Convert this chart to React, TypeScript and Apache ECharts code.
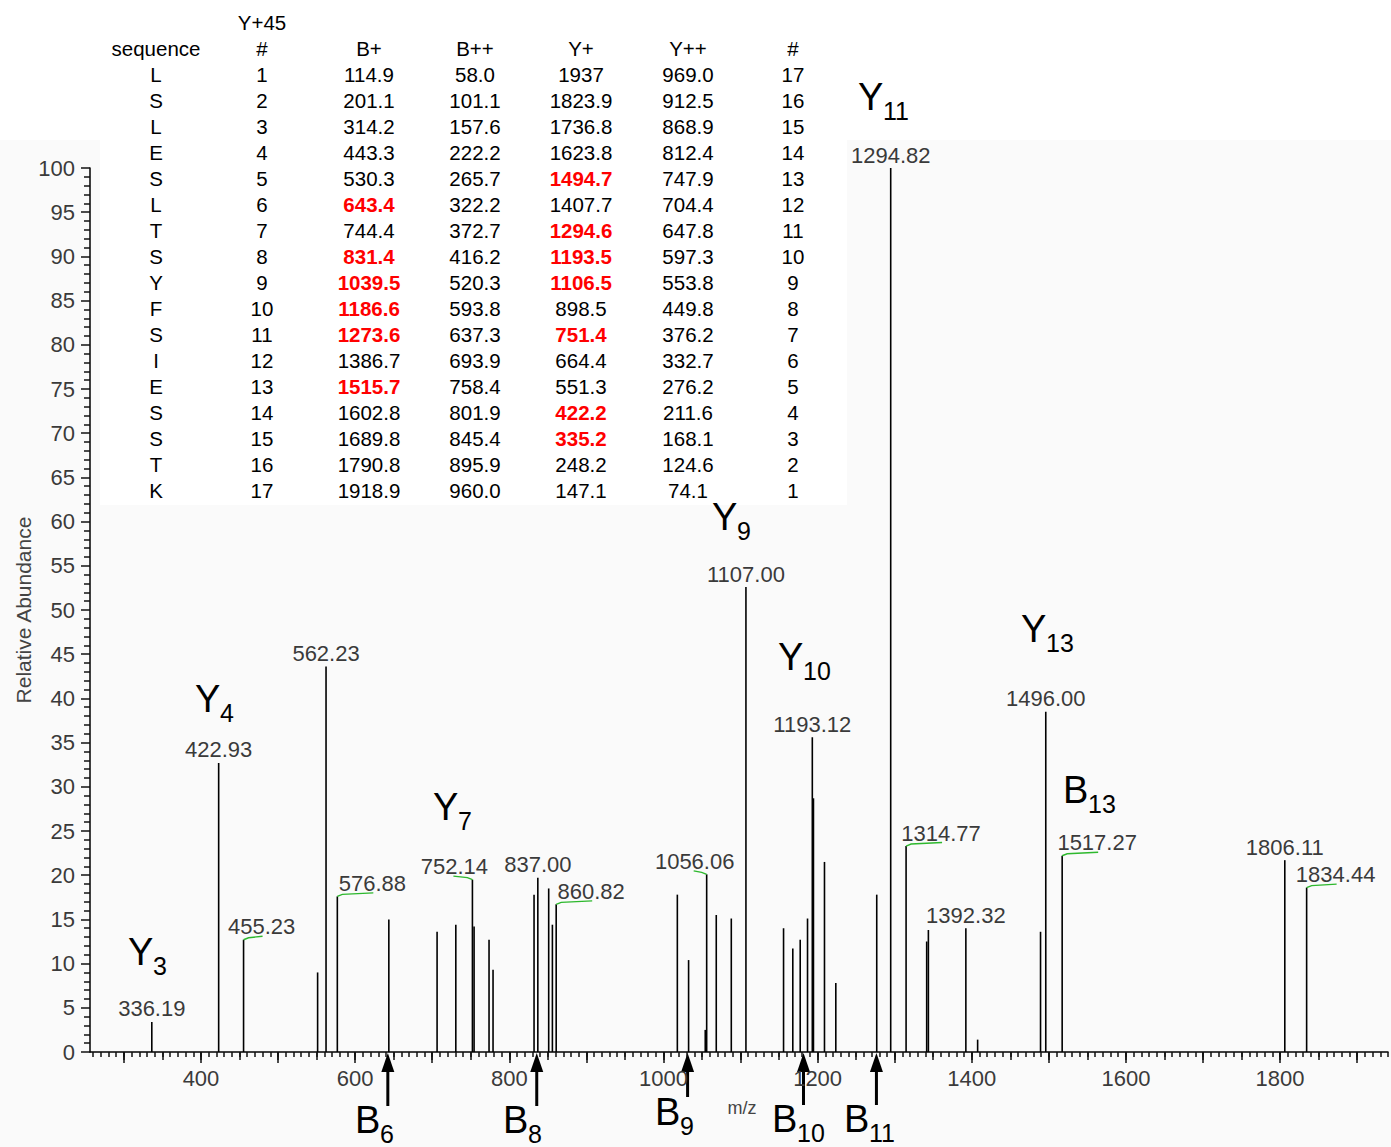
import React, { useEffect, useRef } from "react";
import * as echarts from "echarts";

// ---------- Spectrum data (m/z, relative abundance) ----------
const peakMz = [
  336.19, 422.93, 455.23, 551.3, 562.23, 576.88, 643.7, 706.3, 730.6, 752.14,
  754.3, 773.7, 778.9, 832.1, 837.0, 851.1, 855.9, 860.82, 1018.0, 1032.6,
  1054.2, 1056.06, 1068.5, 1088.0, 1107.0, 1155.8, 1167.8, 1177.4, 1186.9, 1193.12,
  1194.6, 1208.9, 1223.6, 1276.7, 1294.82, 1314.77, 1341.5, 1343.7, 1392.32, 1407.6,
  1489.2, 1496.0, 1517.27, 1806.11, 1834.44,
];
const peakIntensity = [
  3.4, 32.7, 12.7, 9.0, 43.6, 17.6, 15.0, 13.6, 14.4, 19.5,
  14.2, 12.7, 9.3, 17.8, 19.7, 18.5, 14.4, 16.7, 17.8, 10.4,
  2.5, 20.1, 15.5, 15.1, 52.6, 14.0, 11.7, 12.7, 15.1, 35.6,
  28.7, 21.5, 7.8, 17.8, 100, 23.3, 12.5, 13.8, 14.0, 1.4,
  13.6, 38.5, 22.2, 21.7, 18.6,
];

// labelled peaks
const labeledMz = [
  336.19, 422.93, 455.23, 562.23, 576.88, 752.14, 837.0, 860.82, 1056.06,
  1107.0, 1193.12, 1294.82, 1314.77, 1392.32, 1496.0, 1517.27, 1806.11, 1834.44,
];
// horizontal label shift (px) and whether a green leader is drawn
const labelShift = [0, 0, 18, 0, 35, -18, 0, 35, -12, 0, 0, 0, 35, 0, 0, 35, 0, 29];
const labelLeader = [false, false, true, false, true, true, false, true, true, false, false, false, true, false, false, true, false, true];

// axis tick labels
const xTickLabels = [400, 600, 800, 1000, 1200, 1400, 1600, 1800];
const yTickLabels = [0, 5, 10, 15, 20, 25, 30, 35, 40, 45, 50, 55, 60, 65, 70, 75, 80, 85, 90, 95, 100];

// B-ion arrows (m/z)
const arrowMz = [642.4, 835.6, 1031.3, 1181.7, 1276.3];
const arrowNames = ["6", "8", "9", "10", "11"];

// ---------- Fragment table ----------
const seqResidues = ["L", "S", "L", "E", "S", "L", "T", "S", "Y", "F", "S", "I", "E", "S", "S", "T", "K"];
const bIndex = ["1", "2", "3", "4", "5", "6", "7", "8", "9", "10", "11", "12", "13", "14", "15", "16", "17"];
const bPlus = ["114.9", "201.1", "314.2", "443.3", "530.3", "643.4", "744.4", "831.4", "1039.5", "1186.6", "1273.6", "1386.7", "1515.7", "1602.8", "1689.8", "1790.8", "1918.9"];
const bPlusPlus = ["58.0", "101.1", "157.6", "222.2", "265.7", "322.2", "372.7", "416.2", "520.3", "593.8", "637.3", "693.9", "758.4", "801.9", "845.4", "895.9", "960.0"];
const yPlus = ["1937", "1823.9", "1736.8", "1623.8", "1494.7", "1407.7", "1294.6", "1193.5", "1106.5", "898.5", "751.4", "664.4", "551.3", "422.2", "335.2", "248.2", "147.1"];
const yPlusPlus = ["969.0", "912.5", "868.9", "812.4", "747.9", "704.4", "647.8", "597.3", "553.8", "449.8", "376.2", "332.7", "276.2", "211.6", "168.1", "124.6", "74.1"];
const yIndex = ["17", "16", "15", "14", "13", "12", "11", "10", "9", "8", "7", "6", "5", "4", "3", "2", "1"];
const bPlusObserved = ["643.4", "831.4", "1039.5", "1186.6", "1273.6", "1515.7"];
const yPlusObserved = ["1494.7", "1294.6", "1193.5", "1106.5", "751.4", "422.2", "335.2"];
const tableHeaders = ["sequence", "#", "B+", "B++", "Y+", "Y++", "#"];

// ion annotations
const ionLetters = ["Y", "Y", "Y", "Y", "Y", "Y", "Y", "B"];
const ionNumbers = ["3", "4", "7", "9", "10", "11", "13", "13"];

const FONT = "'Liberation Sans', Arial, Helvetica, sans-serif";

// layout (pixels)
const ionPos = [
  [128, 965], [195, 712], [433, 820], [712, 530], [778, 670], [858, 110], [1021, 642], [1063, 803],
];
const arrowBottoms = [1106, 1106, 1097, 1105, 1105];
const arrowLabelPos = [[355, 1133], [503, 1133], [655, 1125], [772, 1132], [844, 1132]];
const tableCols = [156, 262, 369, 475, 581, 688, 793];

function ionLabel(letter: string, num: string, x: number, baseline: number) {
  const big = 38;
  const small = 25;
  const w = 25;
  return [
    {
      type: "text",
      x,
      y: baseline - 0.35 * big,
      style: { text: letter, font: `${big}px ${FONT}`, fill: "#000", textAlign: "left", align: "left", textVerticalAlign: "middle", verticalAlign: "middle" },
    },
    {
      type: "text",
      x: x + w,
      y: baseline + 10 - 0.35 * small,
      style: { text: num, font: `${small}px ${FONT}`, fill: "#000", textAlign: "left", align: "left", textVerticalAlign: "middle", verticalAlign: "middle" },
    },
  ];
}

function tickValues(from: number, to: number, step: number) {
  const out: number[] = [];
  for (let v = from; v <= to; v += step) out.push(v);
  return out;
}

export default function App() {
  const ref = useRef<HTMLDivElement>(null);

  useEffect(() => {
    if (!ref.current) return;
    const chart = echarts.init(ref.current, null, { renderer: "svg" });

    const xMin = 256;
    const xMax = 1940;
    const axisCommon = {
      type: "value",
      min: xMin,
      max: xMax,
      position: "bottom",
      splitLine: { show: false },
    };

    const data = peakMz.map((m, i) => [m, peakIntensity[i]]);

    const tableEls: any[] = [];
    tableEls.push({
      type: "text",
      x: tableCols[1],
      y: 22,
      style: { text: "Y+45", font: `20.5px ${FONT}`, fill: "#000", textAlign: "center", align: "center", textVerticalAlign: "middle", verticalAlign: "middle" },
    });
    tableHeaders.forEach((h, c) => {
      tableEls.push({
        type: "text",
        x: tableCols[c],
        y: 48,
        style: { text: h, font: `20.5px ${FONT}`, fill: "#000", textAlign: "center", align: "center", textVerticalAlign: "middle", verticalAlign: "middle" },
      });
    });
    const columns = [seqResidues, bIndex, bPlus, bPlusPlus, yPlus, yPlusPlus, yIndex];
    columns.forEach((col, c) => {
      col.forEach((v, r) => {
        const red =
          (c === 2 && bPlusObserved.includes(v)) || (c === 4 && yPlusObserved.includes(v));
        tableEls.push({
          type: "text",
          x: tableCols[c],
          y: 74 + r * 26,
          style: {
            text: v,
            font: `${red ? "bold " : ""}20.5px ${FONT}`,
            fill: red ? "#ff0000" : "#000",
            textAlign: "center",
            align: "center",
            textVerticalAlign: "middle",
            verticalAlign: "middle",
          },
        });
      });
    });

    const ionEls: any[] = [];
    ionLetters.forEach((l, i) => {
      ionEls.push(...ionLabel(l, ionNumbers[i], ionPos[i][0], ionPos[i][1]));
    });
    arrowNames.forEach((n, i) => {
      ionEls.push(...ionLabel("B", n, arrowLabelPos[i][0], arrowLabelPos[i][1]));
    });

    const baseGraphics: any[] = [
      { type: "rect", z: -10, shape: { x: 0, y: 140, width: 1391, height: 1007 }, style: { fill: "#fafafa" }, silent: true },
      { type: "rect", z: -9, shape: { x: 100, y: 0, width: 747, height: 505 }, style: { fill: "#ffffff" }, silent: true },
      {
        type: "text",
        x: 23,
        y: 610,
        rotation: Math.PI / 2,
        style: { text: "Relative Abundance", font: `21px ${FONT}`, fill: "#444", textAlign: "center", align: "center", textVerticalAlign: "middle", verticalAlign: "middle" },
      },
      {
        type: "text",
        x: 742,
        y: 1108,
        style: { text: "m/z", font: `18px ${FONT}`, fill: "#444", textAlign: "center", align: "center", textVerticalAlign: "middle", verticalAlign: "middle" },
      },
      ...tableEls,
      ...ionEls,
    ];

    const tickStyle = { color: "#111", width: 1.5 };

    const option: any = {
      animation: false,
      backgroundColor: "#ffffff",
      grid: { left: 90, top: 168, width: 1298, height: 884, containLabel: false },
      xAxis: [
        {
          ...axisCommon,
          axisLine: { show: true, lineStyle: { color: "#000", width: 1.5 } },
          axisTick: { show: true, length: 5, lineStyle: tickStyle, customValues: tickValues(260, 1940, 10) },
          axisLabel: {
            show: true,
            customValues: xTickLabels,
            margin: 15,
            fontSize: 22,
            fontFamily: FONT,
            color: "#3a3a3a",
            formatter: (v: number) => String(v),
          },
        },
        {
          ...axisCommon,
          axisLine: { show: false },
          axisTick: { show: true, length: 8, lineStyle: tickStyle, customValues: tickValues(300, 1900, 50) },
          axisLabel: { show: false },
        },
        {
          ...axisCommon,
          axisLine: { show: false },
          axisTick: { show: true, length: 11, lineStyle: tickStyle, customValues: tickValues(300, 1900, 100) },
          axisLabel: { show: false },
        },
      ],
      yAxis: {
        type: "value",
        min: 0,
        max: 100,
        interval: 5,
        axisLine: { show: true, lineStyle: { color: "#000", width: 1.5 } },
        axisTick: { show: true, length: 9, lineStyle: tickStyle },
        minorTick: { show: true, splitNumber: 5, length: 6, lineStyle: tickStyle },
        splitLine: { show: false },
        minorSplitLine: { show: false },
        axisLabel: {
          margin: 15,
          fontSize: 22,
          fontFamily: FONT,
          color: "#3a3a3a",
          formatter: (v: number) => (yTickLabels.includes(v) ? String(v) : ""),
        },
      },
      series: [
        {
          type: "custom",
          xAxisIndex: 0,
          yAxisIndex: 0,
          data,
          clip: false,
          renderItem: (params: any, api: any) => {
            const mz = api.value(0);
            const h = api.value(1);
            const base = api.coord([mz, 0]);
            const top = api.coord([mz, h]);
            const children: any[] = [
              {
                type: "line",
                shape: { x1: base[0], y1: base[1], x2: top[0], y2: top[1] },
                style: { stroke: "#000", lineWidth: 1.6 },
              },
            ];
            const li = labeledMz.indexOf(mz);
            if (li >= 0) {
              const dx = labelShift[li];
              children.push({
                type: "text",
                x: top[0] + dx,
                y: top[1] - 13,
                style: {
                  text: mz.toFixed(2),
                  font: `22px ${FONT}`,
                  fill: "#3a3a3a",
                  textAlign: "center",
                  align: "center",
                  textVerticalAlign: "middle",
                  verticalAlign: "middle",
                },
              });
              if (labelLeader[li]) {
                const s = Math.sign(dx);
                children.push({
                  type: "polyline",
                  shape: {
                    points: [
                      [top[0], top[1]],
                      [top[0] + s * 5, top[1] - 2],
                      [top[0] + dx + s, top[1] - 3.5],
                    ],
                  },
                  style: { stroke: "#2db82d", lineWidth: 1.4, fill: null },
                });
              }
            }
            return { type: "group", children };
          },
        },
      ],
      graphic: baseGraphics,
    };

    chart.setOption(option);

    // arrows positioned through the axis scale
    const y0 = chart.convertToPixel({ yAxisIndex: 0 }, 0) as number;
    const arrowEls: any[] = [];
    arrowMz.forEach((m, i) => {
      const px = chart.convertToPixel({ xAxisIndex: 0 }, m) as number;
      const tip = y0 + 1;
      arrowEls.push({
        type: "line",
        shape: { x1: px, y1: tip + 14, x2: px, y2: arrowBottoms[i] },
        style: { stroke: "#000", lineWidth: 3 },
      });
      arrowEls.push({
        type: "polygon",
        shape: { points: [[px, tip], [px - 6.5, tip + 19], [px + 6.5, tip + 19]] },
        style: { fill: "#000" },
      });
    });
    chart.setOption({ graphic: [...baseGraphics, ...arrowEls] }, { replaceMerge: ["graphic"] });

    return () => {
      chart.dispose();
    };
  }, []);

  return (
    <div
      ref={ref}
      style={{ position: "absolute", left: 0, top: 0, width: 1391, height: 1147 }}
    />
  );
}
